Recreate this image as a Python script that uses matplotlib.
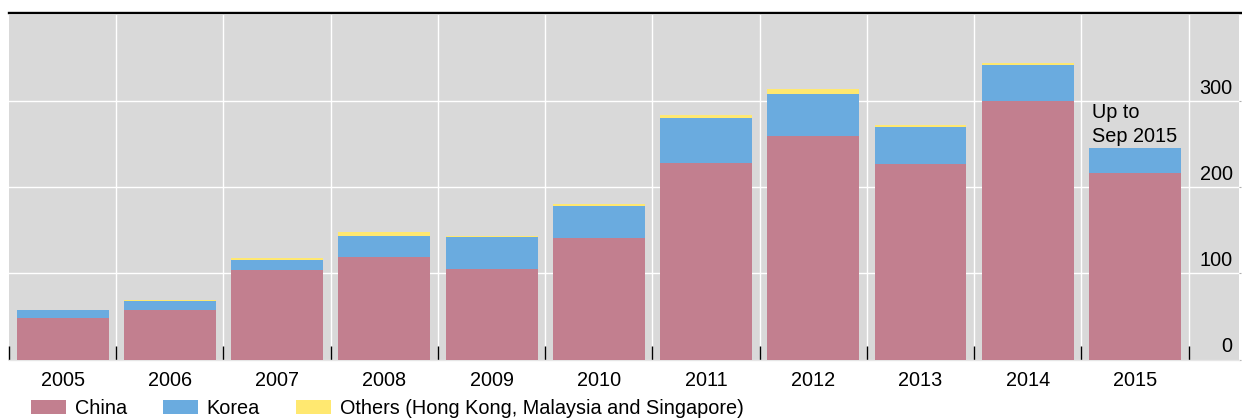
import matplotlib
matplotlib.use("Agg")
import matplotlib.pyplot as plt
import matplotlib.transforms as mtransforms
from matplotlib.patches import Patch
from matplotlib.lines import Line2D
import numpy as np

plt.rcParams['font.family'] = ['Liberation Sans', 'DejaVu Sans']

years = ['2005', '2006', '2007', '2008', '2009', '2010', '2011', '2012', '2013', '2014', '2015']
china = [48, 57, 104, 119, 105, 141, 228, 259, 227, 300, 216]
korea = [9, 10.5, 11.5, 24.5, 37, 37, 52.5, 49.5, 42.5, 41.5, 29]
others = [1, 1.5, 2.5, 4.5, 1.5, 2.5, 3, 6, 2.5, 2.5, 0]
series_names = ['China', 'Korea', 'Others (Hong Kong, Malaysia and Singapore)']
yticks = [0, 100, 200, 300]
annotation = 'Up to\nSep 2015'

c_china = '#c27f8f'
c_korea = '#6aabdf'
c_others = '#ffe870'
bg = '#d9d9d9'
FS = 14.3

W, H = 1242, 418
fig = plt.figure(figsize=(W / 100, H / 100), dpi=100)
left, right, top, bottom = 9, 1239, 15, 359.5
ax = fig.add_axes([left / W, 1 - bottom / H, (right - left) / W, (bottom - top) / H])
ax.set_facecolor(bg)

x = np.arange(len(years))
bw = 0.857
china_a = np.array(china, dtype=float)
korea_a = np.array(korea, dtype=float)
others_a = np.array(others, dtype=float)
ax.bar(x, china_a, width=bw, color=c_china, zorder=3, linewidth=0)
ax.bar(x, korea_a, width=bw, bottom=china_a, color=c_korea, zorder=3, linewidth=0)
ax.bar(x, others_a, width=bw, bottom=china_a + korea_a, color=c_others, zorder=3, linewidth=0)

ax.set_xlim(-0.5, 10.97)
ax.set_ylim(0, 400)

# gridlines
for yv in yticks[1:]:
    ax.axhline(yv, color='white', lw=1.0, zorder=1)
for xv in np.arange(-0.5, len(years), 1.0)[1:]:
    ax.axvline(xv, color='white', lw=1.0, zorder=1)

# x ticks: labels at bar centers, black tick marks at separators
ax.set_xticks(x)
ax.set_xticklabels(years, fontsize=FS)
ax.tick_params(axis='x', which='major', length=0, pad=8.5)
ax.set_xticks(np.arange(-0.5, len(years), 1.0), minor=True)
ax.tick_params(axis='x', which='minor', direction='in', length=10, width=1.0, color='black')

ax.yaxis.set_ticks_position('right')
ax.set_yticks(yticks)
ax.set_yticklabels([])
ax.tick_params(axis='y', which='major', direction='out', length=1.5, color='#b0b0b0', width=0.8)

# y labels inside plot at right, above gridlines
trans = mtransforms.blended_transform_factory(ax.transAxes, ax.transData)
off = mtransforms.offset_copy(trans, fig=fig, x=-4.5, y=2.3, units='points')
for yv in yticks:
    ax.text(1.0, yv, str(yv), transform=off, ha='right', va='bottom', fontsize=FS, zorder=5)

for s in ['left', 'right', 'top']:
    ax.spines[s].set_visible(False)
ax.spines['bottom'].set_color('#e6e6e6')
ax.spines['bottom'].set_linewidth(1.0)

# annotation above last bar
last = len(years) - 1
ax.annotate(annotation, xy=(x[last] - bw / 2, china_a[last] + korea_a[last] + others_a[last]),
            xytext=(2, 2.0), textcoords='offset points', ha='left', va='bottom',
            fontsize=FS, linespacing=1.32, zorder=5)

# top black rule
fig.add_artist(Line2D([left / W, 1241 / W], [1 - 13 / H, 1 - 13 / H], color='black', lw=1.7,
                      transform=fig.transFigure))

handles = [Patch(facecolor=c, edgecolor='none') for c in (c_china, c_korea, c_others)]
fig.legend(handles, series_names, loc='center left', bbox_to_anchor=(31 / W, 1 - 408 / H),
           ncol=3, frameon=False, fontsize=FS, handlelength=1.76, handleheight=0.71,
           handletextpad=0.45, columnspacing=1.8, borderpad=0, borderaxespad=0)

fig.savefig('out.png', dpi=100)
